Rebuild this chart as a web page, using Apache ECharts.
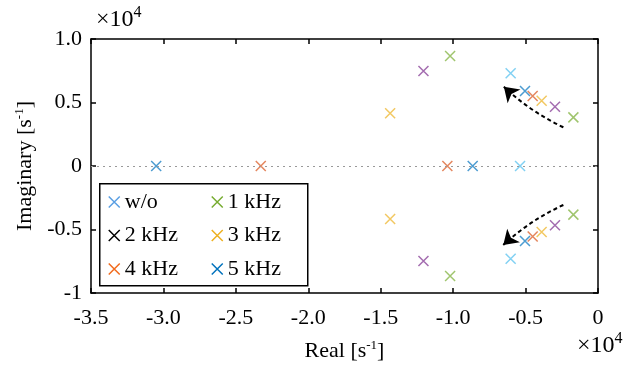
<!DOCTYPE html>
<html>
<head>
<meta charset="utf-8">
<script src="https://cdn.jsdelivr.net/npm/echarts@6.0.0/dist/echarts.min.js"></script>
<style>
  html, body { margin: 0; padding: 0; background: #fff; }
  #chart { width: 640px; height: 365px; }
</style>
</head>
<body>
<div id="chart"></div>
<script>
// pole positions, unit 10^4 s^-1: [real, imaginary]
const seriesNames = ['w/o', '1 kHz', '2 kHz', '3 kHz', '4 kHz', '5 kHz'];
const woPoles = [[-0.538, 0], [-0.603, 0.730], [-0.603, -0.730]];
const f1Poles = [[-1.021, 0.866], [-1.021, -0.866], [-0.170, 0.383], [-0.170, -0.383]];
const f2Poles = [[-1.205, 0.748], [-1.205, -0.748], [-0.297, 0.467], [-0.297, -0.467]];
const f3Poles = [[-1.435, 0.415], [-1.435, -0.417], [-0.389, 0.514], [-0.389, -0.520]];
const f4Poles = [[-2.328, 0], [-1.040, 0], [-0.451, 0.551], [-0.451, -0.555]];
const f5Poles = [[-3.050, 0], [-0.865, 0], [-0.504, 0.591], [-0.504, -0.590]];
// dashed arrows showing the trend with frequency
const arrowPaths = [
  [[-0.239, 0.305], [-0.650, 0.624]],
  [[-0.239, -0.307], [-0.654, -0.622]]
];

const plotColors = ['#4DBEEE', '#77AC30', '#7E2F8E', '#EDB120', '#D95319', '#0072BD'];
const legendColors = ['#5a9fe3', '#77AC30', '#000000', '#EDB120', '#F26B1D', '#0072BD'];
const allPoles = [woPoles, f1Poles, f2Poles, f3Poles, f4Poles, f5Poles];

const FONT = 'Liberation Serif';
const CROSS = 'path://M0,0L10,10M0,10L10,0';

let chart = echarts.init(document.getElementById('chart'));

let scatterSeries = allPoles.map((poles, i) => ({
  name: seriesNames[i],
  type: 'scatter',
  data: poles,
  symbol: CROSS,
  symbolSize: 10,
  itemStyle: {
    color: 'rgba(0,0,0,0)',
    borderColor: plotColors[i],
    borderWidth: 1.5,
    opacity: 0.7
  },
  z: 3
}));
// dotted line at zero
scatterSeries[0].markLine = {
  silent: true,
  symbol: ['none', 'none'],
  label: { show: false },
  lineStyle: { type: [2, 4], color: '#999', width: 1.2 },
  data: [{ yAxis: 0 }],
  animation: false
};

function legendItems(names) {
  return names.map((n) => {
    let i = seriesNames.indexOf(n);
    return {
      name: n,
      itemStyle: { color: 'rgba(0,0,0,0)', borderColor: legendColors[i], borderWidth: 1.5, opacity: 1 }
    };
  });
}

let legendCommon = {
  orient: 'vertical',
  top: 191,
  itemWidth: 11,
  itemHeight: 11,
  itemGap: 11.5,
  selectedMode: false,
  padding: 0,
  textStyle: { fontFamily: FONT, fontSize: 22, color: '#000', lineHeight: 22 }
};

let axisLineStyle = { onZero: false, lineStyle: { color: '#000', width: 1.5 } };
let tickStyle = { inside: true, length: 5, lineStyle: { color: '#000', width: 1.5 } };
let supRich = { sup: { fontFamily: FONT, fontSize: 13, color: '#000', padding: [0, 0, 12, 0] } };

let option = {
  animation: false,
  grid: { left: 91, right: 42, top: 39, bottom: 72, outerBoundsMode: 'none' },
  xAxis: [
    {
      type: 'value',
      min: -3.5,
      max: 0,
      interval: 0.5,
      name: 'Real [s{sup|-1}]',
      nameLocation: 'middle',
      nameGap: 46,
      nameTextStyle: { fontFamily: FONT, fontSize: 22, color: '#000', rich: supRich },
      axisLine: axisLineStyle,
      axisTick: tickStyle,
      axisLabel: {
        margin: 14,
        fontFamily: FONT, fontSize: 22, color: '#000',
        formatter: (v) => (v === 0 ? '0' : v.toFixed(1))
      },
      splitLine: { show: false }
    },
    {
      type: 'value',
      position: 'top',
      min: -3.5,
      max: 0,
      interval: 0.5,
      axisLine: axisLineStyle,
      axisTick: tickStyle,
      axisLabel: { show: false },
      splitLine: { show: false }
    }
  ],
  yAxis: [
    {
      type: 'value',
      min: -1,
      max: 1,
      interval: 0.5,
      name: 'Imaginary [s{sup|-1}]',
      nameLocation: 'middle',
      nameGap: 50,
      nameTextStyle: { fontFamily: FONT, fontSize: 22, color: '#000', rich: supRich },
      axisLine: axisLineStyle,
      axisTick: tickStyle,
      axisLabel: {
        margin: 9,
        fontFamily: FONT, fontSize: 22, color: '#000',
        formatter: (v) => (v === 1 ? '1.0' : String(v))
      },
      splitLine: { show: false }
    },
    {
      type: 'value',
      position: 'right',
      min: -1,
      max: 1,
      interval: 0.5,
      axisLine: axisLineStyle,
      axisTick: tickStyle,
      axisLabel: { show: false },
      splitLine: { show: false }
    }
  ],
  legend: [
    Object.assign({}, legendCommon, { left: 108, data: legendItems(['w/o', '2 kHz', '4 kHz']) }),
    Object.assign({}, legendCommon, { left: 211, data: legendItems(['1 kHz', '3 kHz', '5 kHz']) })
  ],
  graphic: [
    {
      type: 'rect',
      left: 99,
      top: 183,
      shape: { width: 208, height: 102 },
      style: { fill: 'rgba(0,0,0,0)', stroke: '#000', lineWidth: 1.5 },
      z: 10
    },
    {
      type: 'text',
      left: 96,
      top: 5,
      style: {
        text: '×10{sup|4}',
        fontFamily: FONT, fontSize: 24, fill: '#000',
        rich: { sup: { fontFamily: FONT, fontSize: 16, fill: '#000', padding: [0, 0, 13, 0] } }
      }
    },
    {
      type: 'text',
      left: 577,
      top: 331,
      style: {
        text: '×10{sup|4}',
        fontFamily: FONT, fontSize: 24, fill: '#000',
        rich: { sup: { fontFamily: FONT, fontSize: 16, fill: '#000', padding: [0, 0, 13, 0] } }
      }
    }
  ],
  series: scatterSeries.concat([
    {
      name: 'arrows',
      type: 'lines',
      coordinateSystem: 'cartesian2d',
      symbol: ['none', 'arrow'],
      symbolSize: 14,
      lineStyle: { color: '#000', width: 2, type: [4, 3], opacity: 1 },
      data: arrowPaths.map((p, i) => ({
        coords: p,
        lineStyle: { curveness: i === 0 ? 0.08 : -0.08 }
      })),
      z: 4
    }
  ])
};

chart.setOption(option);
</script>
</body>
</html>
